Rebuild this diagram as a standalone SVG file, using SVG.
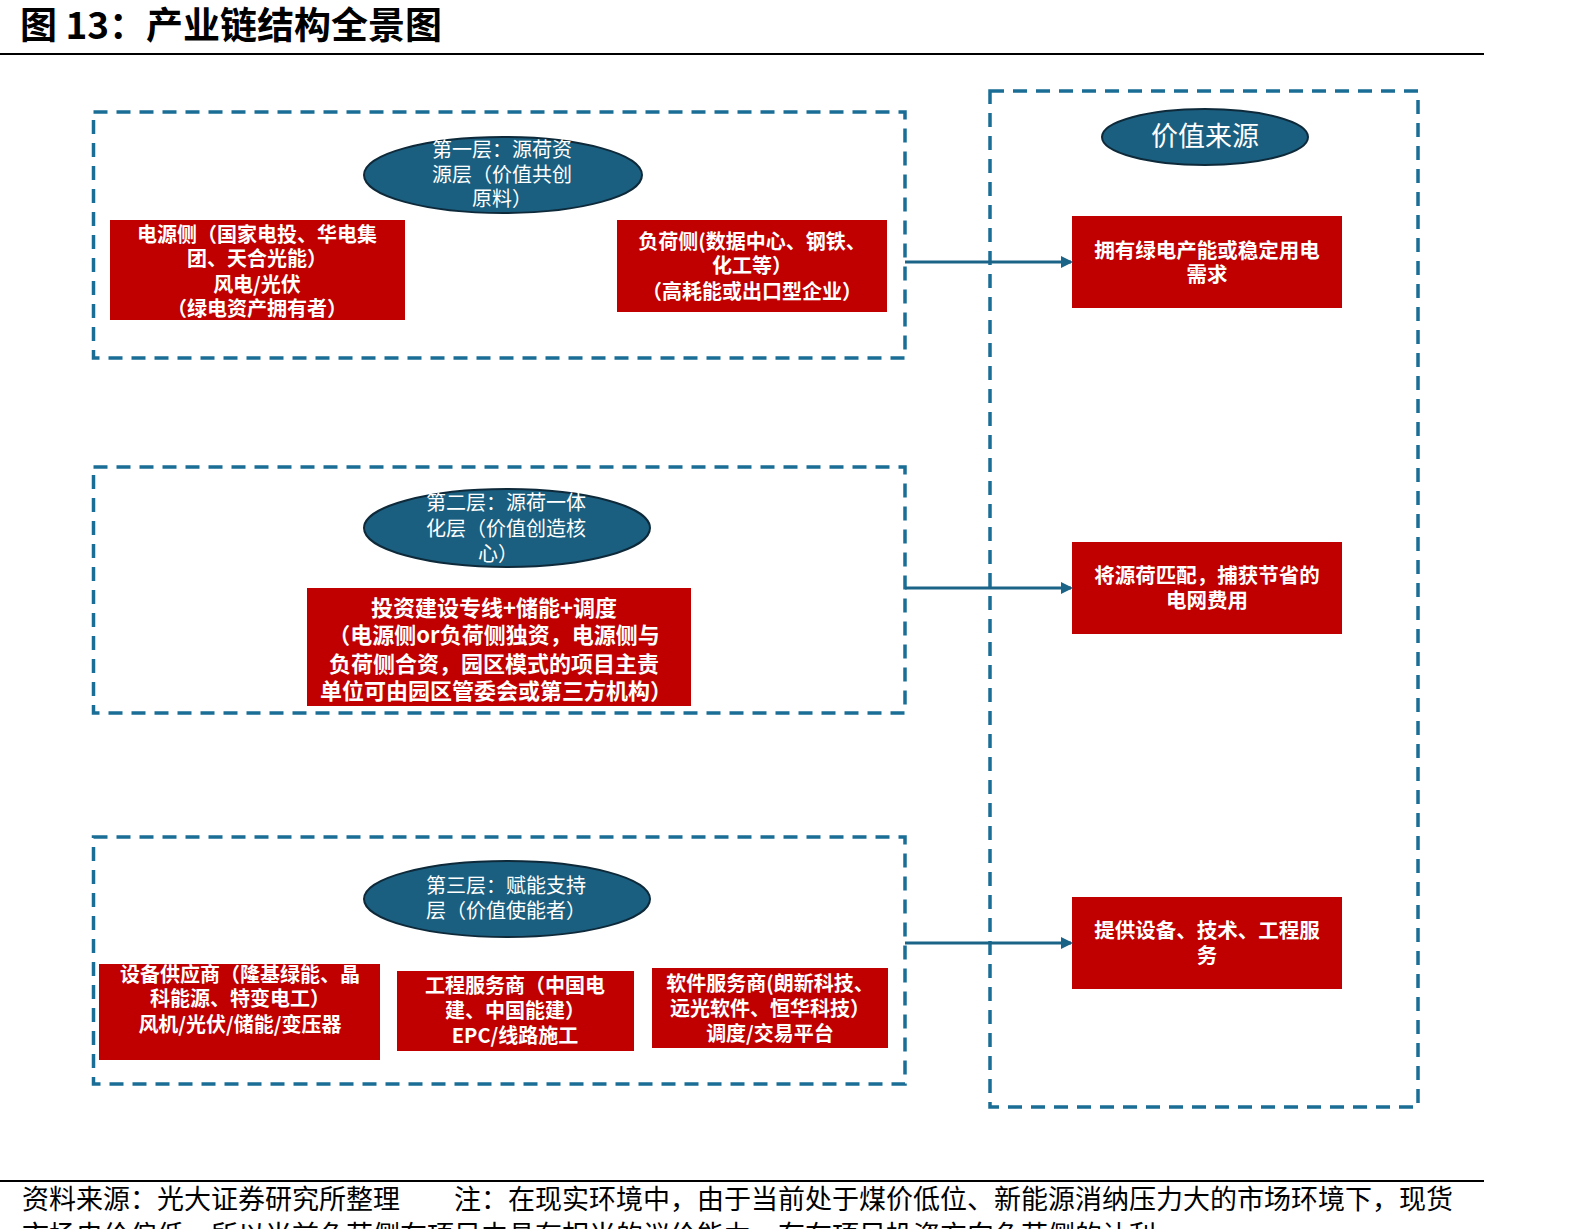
<svg xmlns="http://www.w3.org/2000/svg" width="1594" height="1229" viewBox="0 0 1594 1229">
<style>
text{font-family:"Noto Sans CJK SC","Noto Sans",sans-serif}
.title{font-size:37px;font-weight:bold;fill:#000}
.foot{font-size:27px;fill:#000}
.dash{fill:none;stroke:#1a6e96;stroke-width:3.5;stroke-dasharray:14 9}
.ell{fill:#1b5f80;stroke:#0e2a3a;stroke-width:2}
.et{font-size:20px;fill:#fff;text-anchor:middle}
.red{fill:#c00000}
.rt{font-size:20px;fill:#fff;font-weight:bold;text-anchor:middle}
.rt2{font-size:22px;fill:#fff;font-weight:bold;text-anchor:middle}
.rt3{font-size:20.5px;fill:#fff;font-weight:bold;text-anchor:middle}
.conn{stroke:#1b6487;stroke-width:3;fill:none;marker-end:url(#ah)}
</style>
<defs>
<marker id="ah" markerWidth="12" markerHeight="12" refX="10" refY="6" orient="auto" markerUnits="userSpaceOnUse">
<path d="M0,0 L12,6 L0,12 Z" fill="#1b6487"/>
</marker>
</defs>
<rect width="1594" height="1229" fill="#fff"/>
<g id="header">
<text class="title" x="20" y="39">图 13：产业链结构全景图</text>
<line x1="0" y1="54" x2="1484" y2="54" stroke="#000" stroke-width="2"/>
</g>
<g id="layer1">
<rect class="dash" x="93.5" y="112" width="811.5" height="246"/>
<g id="layer1-title">
<ellipse class="ell" cx="503" cy="175" rx="139" ry="38"/>
<text class="et" x="502" y="157">第一层：源荷资</text>
<text class="et" x="502" y="182">源层（价值共创</text>
<text class="et" x="502" y="206">原料）</text>
</g>
<g id="supply-side">
<rect class="red" x="110" y="220" width="295" height="100"/>
<text class="rt" x="257" y="242">电源侧（国家电投、华电集</text>
<text class="rt" x="257" y="266">团、天合光能）</text>
<text class="rt" x="257" y="292">风电/光伏</text>
<text class="rt" x="257" y="316">（绿电资产拥有者）</text>
</g>
<g id="load-side">
<rect class="red" x="617" y="220" width="270" height="92"/>
<text class="rt" x="752" y="249">负荷侧(数据中心、钢铁、</text>
<text class="rt" x="752" y="273">化工等）</text>
<text class="rt" x="752" y="299">（高耗能或出口型企业）</text>
</g>
</g>
<g id="layer2">
<rect class="dash" x="93.5" y="467" width="811.5" height="246"/>
<g id="layer2-title">
<ellipse class="ell" cx="507" cy="528" rx="143" ry="39"/>
<text class="et" x="506" y="510">第二层：源荷一体</text>
<text class="et" x="506" y="536">化层（价值创造核</text>
<text class="et" x="498" y="561">心）</text>
</g>
<g id="integration">
<rect class="red" x="307" y="588" width="384" height="118"/>
<text class="rt2" x="494" y="616">投资建设专线+储能+调度</text>
<text class="rt2" x="494" y="643">（电源侧or负荷侧独资，电源侧与</text>
<text class="rt2" x="494" y="672">负荷侧合资，园区模式的项目主责</text>
<text class="rt2" x="496" y="699">单位可由园区管委会或第三方机构）</text>
</g>
</g>
<g id="layer3">
<rect class="dash" x="93.5" y="837" width="811.5" height="247"/>
<g id="layer3-title">
<ellipse class="ell" cx="507" cy="899" rx="143" ry="38"/>
<text class="et" x="506" y="893">第三层：赋能支持</text>
<text class="et" x="506" y="918">层（价值使能者）</text>
</g>
<g id="equipment">
<rect class="red" x="99" y="964" width="281" height="96"/>
<text class="rt" x="240" y="982">设备供应商（隆基绿能、晶</text>
<text class="rt" x="240" y="1006">科能源、特变电工）</text>
<text class="rt" x="240" y="1032">风机/光伏/储能/变压器</text>
</g>
<g id="engineering">
<rect class="red" x="397" y="971" width="237" height="80"/>
<text class="rt" x="515" y="993">工程服务商（中国电</text>
<text class="rt" x="515" y="1018">建、中国能建）</text>
<text class="rt" x="515" y="1043">EPC/线路施工</text>
</g>
<g id="software">
<rect class="red" x="652" y="968" width="236" height="80"/>
<text class="rt" x="770" y="991">软件服务商(朗新科技、</text>
<text class="rt" x="770" y="1016">远光软件、恒华科技）</text>
<text class="rt" x="770" y="1041">调度/交易平台</text>
</g>
</g>
<g id="value-source">
<rect class="dash" x="990" y="91" width="428" height="1016"/>
<g id="value-title">
<ellipse class="ell" cx="1205" cy="137" rx="103" ry="28"/>
<text x="1205" y="146" style="font-size:27px;fill:#fff;text-anchor:middle">价值来源</text>
</g>
<g id="value1">
<rect class="red" x="1072" y="216" width="270" height="92"/>
<text class="rt3" x="1207" y="258">拥有绿电产能或稳定用电</text>
<text class="rt3" x="1207" y="282">需求</text>
</g>
<g id="value2">
<rect class="red" x="1072" y="542" width="270" height="92"/>
<text class="rt3" x="1207" y="583">将源荷匹配，捕获节省的</text>
<text class="rt3" x="1207" y="608">电网费用</text>
</g>
<g id="value3">
<rect class="red" x="1072" y="897" width="270" height="92"/>
<text class="rt3" x="1207" y="938">提供设备、技术、工程服</text>
<text class="rt3" x="1207" y="963">务</text>
</g>
</g>
<g id="connectors">
<line class="conn" x1="905" y1="262" x2="1071" y2="262"/>
<line class="conn" x1="905" y1="588" x2="1071" y2="588"/>
<line class="conn" x1="905" y1="943" x2="1071" y2="943"/>
</g>
<g id="footer">
<line x1="0" y1="1181" x2="1484" y2="1181" stroke="#000" stroke-width="2"/>
<text class="foot" x="22" y="1209">资料来源：光大证券研究所整理</text>
<text class="foot" x="454" y="1209">注：在现实环境中，由于当前处于煤价低位、新能源消纳压力大的市场环境下，现货</text>
<text class="foot" x="22" y="1245">市场电价偏低，所以当前负荷侧在项目中具有相当的议价能力，存在项目投资方向负荷侧的让利</text>
</g>
</svg>
